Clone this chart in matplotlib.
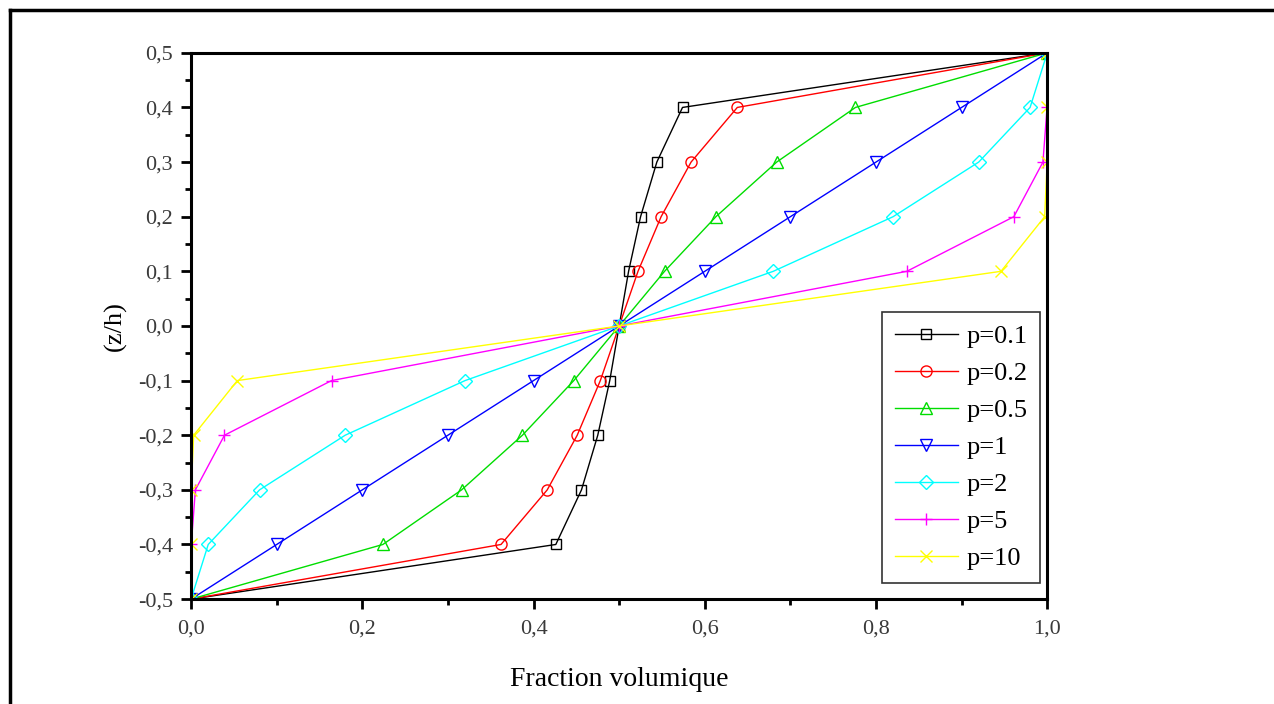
import matplotlib.pyplot as plt
from matplotlib.lines import Line2D
from matplotlib.ticker import MultipleLocator, FuncFormatter

plt.rcParams["font.family"] = ["Liberation Serif", "DejaVu Serif"]

# positions dans l'epaisseur (z/h)
z_h = [-0.5, -0.4, -0.3, -0.2, -0.1, 0.0, 0.1, 0.2, 0.3, 0.4, 0.5]

# fraction volumique
v_p01 = [0.0, 0.426, 0.456, 0.475, 0.489, 0.5, 0.511, 0.525, 0.544, 0.574, 1.0]
v_p02 = [0.0, 0.362, 0.416, 0.451, 0.478, 0.5, 0.522, 0.549, 0.584, 0.638, 1.0]
v_p05 = [0.0, 0.224, 0.316, 0.387, 0.447, 0.5, 0.553, 0.613, 0.684, 0.776, 1.0]
v_p1 = [0.0, 0.1, 0.2, 0.3, 0.4, 0.5, 0.6, 0.7, 0.8, 0.9, 1.0]
v_p2 = [0.0, 0.02, 0.08, 0.18, 0.32, 0.5, 0.68, 0.82, 0.92, 0.98, 1.0]
v_p5 = [0.0, 0.0002, 0.005, 0.039, 0.164, 0.5, 0.836, 0.961, 0.995, 0.9998, 1.0]
v_p10 = [0.0, 0.0, 0.0001, 0.003, 0.054, 0.5, 0.946, 0.997, 0.9999, 1.0, 1.0]

labels = ["p=0.1", "p=0.2", "p=0.5", "p=1", "p=2", "p=5", "p=10"]
series = [v_p01, v_p02, v_p05, v_p1, v_p2, v_p5, v_p10]
colors = ["black", "red", "#00dd00", "blue", "cyan", "magenta", "yellow"]
markers = ["s", "o", "^", "v", "D", "+", "x"]
msizes = [7, 8, 9, 9, 7, 9, 9]

fig = plt.figure(figsize=(12.74, 7.04), dpi=100)
ax = fig.add_axes([0.150, 0.149, 0.672, 0.776])

for v, lab, c, m, ms in zip(series, labels, colors, markers, msizes):
    ax.plot(v, z_h, color=c, linewidth=1.0, marker=m, markersize=ms,
            markerfacecolor="none", markeredgecolor=c, markeredgewidth=1.0,
            label=lab)

ax.set_xlim(0, 1.0)
ax.set_ylim(-0.5, 0.5)
ax.xaxis.set_major_locator(MultipleLocator(0.2))
ax.xaxis.set_minor_locator(MultipleLocator(0.1))
ax.yaxis.set_major_locator(MultipleLocator(0.1))
ax.yaxis.set_minor_locator(MultipleLocator(0.05))
fmt = FuncFormatter(lambda val, pos: f"{val:.1f}".replace(".", ",").replace("-0,0", "0,0"))
ax.xaxis.set_major_formatter(fmt)
ax.yaxis.set_major_formatter(fmt)

for side in ["left", "bottom", "top", "right"]:
    ax.spines[side].set_linewidth(2.2)
ax.tick_params(which="major", direction="out", length=7, width=2, labelsize=16,
               labelcolor="#3a3a3a", pad=6, top=False, right=False)
ax.tick_params(which="minor", direction="out", length=4, width=2, top=False, right=False)
ax.tick_params(axis="x", which="major", pad=8)

ax.set_xlabel("Fraction volumique", fontsize=20, labelpad=20)
ax.set_ylabel("(z/h)", fontsize=19, labelpad=8)

leg = ax.legend(loc="lower right", bbox_to_anchor=(0.992, 0.029), borderaxespad=0,
                fontsize=19, frameon=True, fancybox=False, handlelength=2.4,
                labelspacing=0.51, borderpad=0.5, handletextpad=0.3)
leg.get_frame().set_edgecolor("black")
leg.get_frame().set_linewidth(1.2)

# cadre exterieur (gauche et haut)
fig.add_artist(Line2D([10 / 1274, 10 / 1274], [0, 1 - 10 / 704], color="black",
                      linewidth=2.5, transform=fig.transFigure))
fig.add_artist(Line2D([10 / 1274, 1], [1 - 10 / 704, 1 - 10 / 704], color="black",
                      linewidth=2.5, transform=fig.transFigure))

fig.savefig("out.png", dpi=100)
